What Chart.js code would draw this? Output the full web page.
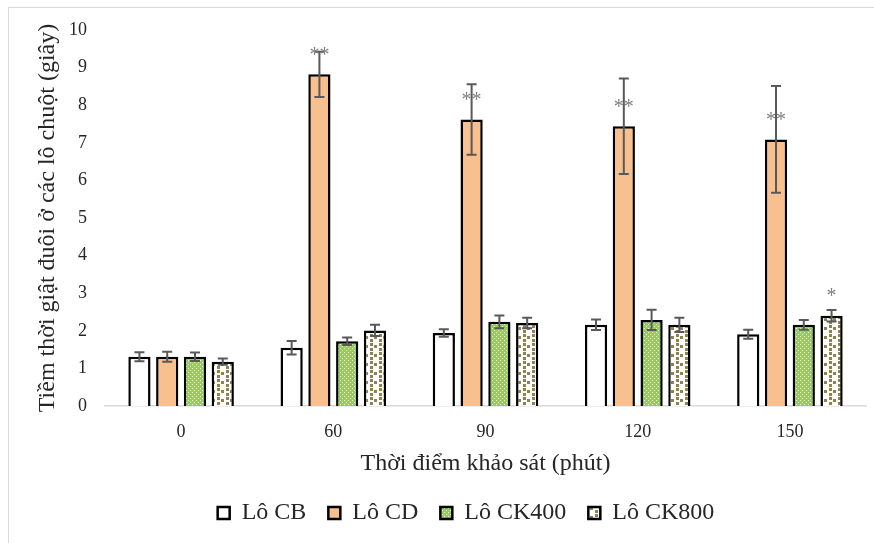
<!DOCTYPE html>
<html>
<head>
<meta charset="utf-8">
<script src="https://cdn.jsdelivr.net/npm/chart.js@4/dist/chart.umd.min.js"></script>
<style>
  body { margin:0; background:#fff; }
  #wrap { position:relative; width:874px; height:543px; overflow:hidden; }
  #frame { position:absolute; left:8px; top:7px; width:900px; height:600px; border-left:1px solid #d9d9d9; border-top:1px solid #d9d9d9; }
  #chart { position:absolute; left:0; top:0; }
</style>
</head>
<body>
<div id="wrap">
  <div id="frame"></div>
  <canvas id="chart" width="874" height="543"></canvas>
</div>
<script>
// ---- data ----
const categories = ["0", "60", "90", "120", "150"];
const seriesNames = ["Lô CB", "Lô CD", "Lô CK400", "Lô CK800"];

const cbValues    = [1.31, 1.55, 1.94, 2.16, 1.91];
const cdValues    = [1.31, 8.82, 7.62, 7.44, 7.09];
const ck400Values = [1.31, 1.72, 2.24, 2.29, 2.16];
const ck800Values = [1.18, 2.01, 2.21, 2.16, 2.40];

// +/- error
const cbErr    = [0.12, 0.18, 0.10, 0.14, 0.12];
const cdErr    = [0.13, 0.60, 0.94, 1.27, 1.42];
const ck400Err = [0.11, 0.10, 0.17, 0.27, 0.13];
const ck800Err = [0.08, 0.15, 0.14, 0.19, 0.15];

// significance marks
const cbStars    = ["", "", "", "", ""];
const cdStars    = ["", "**", "**", "**", "**"];
const ck400Stars = ["", "", "", "", ""];
const ck800Stars = ["", "", "", "", "*"];

const yTicks = [0, 1, 2, 3, 4, 5, 6, 7, 8, 9, 10];

const serif = "Liberation Serif";
Chart.defaults.font.family = serif;

// ---- fill patterns ----
function gridPattern(){
  const c = document.createElement("canvas");
  c.width = 4; c.height = 4;
  const g = c.getContext("2d");
  g.fillStyle = "#92D050"; g.fillRect(0,0,4,4);
  g.fillStyle = "#ffffff";
  g.fillRect(0,0,1,1); g.fillRect(2,2,1,1);
  return g.createPattern(c, "repeat");
}
function confettiPattern(){
  const c = document.createElement("canvas");
  c.width = 9; c.height = 9;
  const g = c.getContext("2d");
  g.fillStyle = "#ffffff"; g.fillRect(0,0,9,9);
  g.fillStyle = "#8f8150";
  g.fillRect(1,1,3,3); g.fillRect(5,3,3,3); g.fillRect(1,6,3,3);
  return g.createPattern(c, "repeat");
}

const errors = [cbErr, cdErr, ck400Err, ck800Err];
const stars = [cbStars, cdStars, ck400Stars, ck800Stars];

// error bars + stars
const errorBarPlugin = {
  id: "errorBars",
  afterDatasetsDraw(chart){
    const ctx = chart.ctx;
    const y = chart.scales.y;
    chart.data.datasets.forEach((ds, i) => {
      const meta = chart.getDatasetMeta(i);
      meta.data.forEach((bar, j) => {
        const v = ds.data[j], e = errors[i][j];
        const top = y.getPixelForValue(v + e);
        const bot = y.getPixelForValue(v - e);
        ctx.save();
        ctx.strokeStyle = "#595959";
        ctx.lineWidth = 2;
        ctx.beginPath();
        ctx.moveTo(bar.x, top); ctx.lineTo(bar.x, bot);
        ctx.moveTo(bar.x - 5, top); ctx.lineTo(bar.x + 5, top);
        ctx.moveTo(bar.x - 5, bot); ctx.lineTo(bar.x + 5, bot);
        ctx.stroke();
        if(stars[i][j]){
          ctx.fillStyle = "#7f7f7f";
          ctx.font = "20px " + serif;
          ctx.textAlign = "center";
          ctx.textBaseline = "middle";
          ctx.fillText(stars[i][j], bar.x, bar.y - 19);
        }
        ctx.restore();
      });
    });
  }
};

const ctx = document.getElementById("chart").getContext("2d");
const fills = ["#ffffff", "#F8BF8F", gridPattern(), confettiPattern()];
const values = [cbValues, cdValues, ck400Values, ck800Values];

new Chart(ctx, {
  type: "bar",
  data: {
    labels: categories,
    datasets: seriesNames.map((name, i) => ({
      label: name,
      data: values[i],
      backgroundColor: fills[i],
      borderColor: "#000000",
      borderWidth: 2.5,
      categoryPercentage: 0.73,
      barPercentage: 0.8
    }))
  },
  options: {
    responsive: false,
    animation: false,
    // left padding pushes the legend centre to the right like the original
    layout: { padding: { left: 66, right: 8, top: 30, bottom: 8 } },
    scales: {
      x: {
        grid: { display: false, drawTicks: false },
        border: { display: true, color: "#d9d9d9", width: 1.5 },
        ticks: { color: "#262626", font: { family: serif, size: 18 }, padding: 15 },
        title: { display: true, text: "Thời điểm khảo sát (phút)", color: "#262626",
                 font: { family: serif, size: 24 }, padding: { top: 0, bottom: 1 } },
        afterFit: s => { s.height = 73; }
      },
      y: {
        min: 0, max: 10,
        afterBuildTicks: s => { s.ticks = yTicks.map(v => ({ value: v })); },
        grid: { display: false, drawTicks: false },
        border: { display: false },
        ticks: { color: "#262626", font: { family: serif, size: 18 }, padding: 18 },
        title: { display: true, text: "Tiềm thời giật đuôi ở các lô chuột (giây)", color: "#262626",
                 font: { family: serif, size: 24 }, padding: { top: -33, bottom: 0 } },
        afterFit: s => { s.width = 39; }
      }
    },
    plugins: {
      legend: {
        position: "bottom",
        labels: { color: "#262626", font: { family: serif, size: 24 }, boxWidth: 12, boxHeight: 12, padding: 22 }
      },
      tooltip: { enabled: false }
    }
  },
  plugins: [errorBarPlugin]
});
</script>
</body>
</html>
